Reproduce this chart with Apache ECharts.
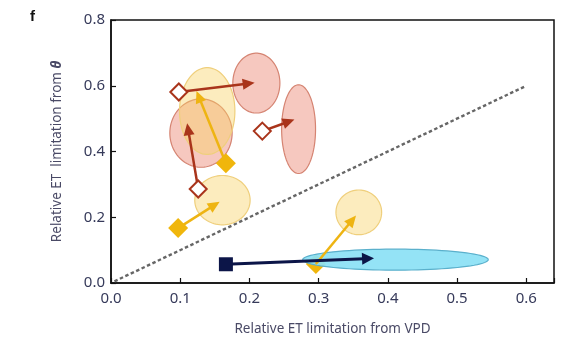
<!DOCTYPE html>
<html><head><meta charset="utf-8">
<script src="https://cdn.jsdelivr.net/npm/echarts@6/dist/echarts.min.js"></script>
<style>html,body{margin:0;padding:0;background:#fff}#c{width:563px;height:345px}</style>
</head><body><div id="c"></div>
<script>
// ---- data (x = relative ET limitation from VPD, y = from theta) ----
const xTicks = [0.0, 0.1, 0.2, 0.3, 0.4, 0.5, 0.6];
const yTicks = [0.0, 0.2, 0.4, 0.6, 0.8];
// ellipses: [cx, cy, rx, ry] in data units
const yellowEllipses = [[0.139, 0.523, 0.040, 0.132], [0.161, 0.252, 0.040, 0.075], [0.358, 0.215, 0.033, 0.068]];
const pinkEllipses = [[0.210, 0.608, 0.034, 0.091], [0.130, 0.456, 0.045, 0.104], [0.271, 0.468, 0.0245, 0.135]];
const cyanEllipses = [[0.411, 0.071, 0.134, 0.032]];
// arrows: [x0, y0, x1, y1]
const redArrows = [[0.098, 0.581, 0.2075, 0.609], [0.2186, 0.462, 0.265, 0.497], [0.126, 0.286, 0.110, 0.486]];
const yellowArrows = [[0.166, 0.364, 0.1235, 0.584], [0.097, 0.167, 0.157, 0.247], [0.296, 0.058, 0.354, 0.205]];
const navyArrows = [[0.166, 0.057, 0.380, 0.075]];
const oneToOne = [[0.005, 0.005], [0.6, 0.6]];

const chart = echarts.init(document.getElementById('c'), null, {renderer: 'canvas'});

function ellipseSeries(data, fill, stroke, z) {
  return {
    type: 'custom', data: data, z: z, silent: true,
    renderItem: function (params, api) {
      const c = api.coord([api.value(0), api.value(1)]);
      const s = api.size([api.value(2), api.value(3)]);
      const pts = [];
      for (let i = 0; i < 90; i++) {
        const a = i / 90 * Math.PI * 2;
        pts.push([c[0] + s[0] * Math.cos(a), c[1] + s[1] * Math.sin(a)]);
      }
      return {type: 'polygon', shape: {points: pts},
        style: {fill: fill, stroke: stroke, lineWidth: 1.2}};
    }
  };
}
function arrowSeries(data, color, width, headLen, headW, z) {
  return {
    type: 'custom', data: data, z: z, silent: true,
    renderItem: function (params, api) {
      const p0 = api.coord([api.value(0), api.value(1)]);
      const p1 = api.coord([api.value(2), api.value(3)]);
      const dx = p1[0] - p0[0], dy = p1[1] - p0[1];
      const L = Math.sqrt(dx * dx + dy * dy);
      const ux = dx / L, uy = dy / L;
      const bx = p1[0] - ux * headLen, by = p1[1] - uy * headLen;
      return {type: 'group', children: [
        {type: 'line', shape: {x1: p0[0], y1: p0[1], x2: bx + ux * 2, y2: by + uy * 2},
          style: {stroke: color, lineWidth: width}},
        {type: 'polygon', shape: {points: [[p1[0], p1[1]],
          [bx - uy * headW / 2, by + ux * headW / 2], [bx + uy * headW / 2, by - ux * headW / 2]]},
          style: {fill: color}}
      ]};
    }
  };
}

const labelColor = '#363a5a';
chart.setOption({
  animation: false,
  grid: {left: 111, right: 9, top: 20, bottom: 62, show: true, borderColor: '#111', borderWidth: 1.5, backgroundColor: '#fff'},
  title: {text: 'f', left: 25, top: 4, textStyle: {fontFamily: 'Liberation Sans', fontSize: 15, fontWeight: 'bold', color: '#111'}},
  xAxis: {
    type: 'value', min: 0, max: 0.64, interval: 0.1,
    name: 'Relative ET limitation from VPD', nameLocation: 'middle', nameGap: 39,
    nameTextStyle: {fontFamily: 'Noto Sans', fontSize: 13.5, color: '#4a4a66'},
    axisLine: {show: true, lineStyle: {color: '#111', width: 1.5}},
    axisTick: {show: true, inside: true, length: 5, lineStyle: {color: '#111', width: 1.2}},
    axisLabel: {fontFamily: 'Noto Sans', fontSize: 15, color: labelColor, margin: 8,
      formatter: function (v) { const t = xTicks.find(k => Math.abs(k - v) < 1e-6); return t === undefined ? '' : t.toFixed(1); }},
    splitLine: {show: false}
  },
  yAxis: {
    type: 'value', min: 0, max: 0.8, interval: 0.2,
    name: '{n|Relative ET  limitation from }{t|θ}', nameLocation: 'middle', nameGap: 47,
    nameTextStyle: {fontFamily: 'Noto Sans', fontSize: 13.5, color: '#4a4a66',
      rich: {n: {fontFamily: 'Noto Sans', fontSize: 13.5, color: '#4a4a66'}, t: {fontFamily: 'Noto Sans', fontSize: 13.5, fontStyle: 'italic', fontWeight: 'bold', color: '#4a4a66'}}},
    axisLine: {show: true, lineStyle: {color: '#111', width: 1.5}},
    axisTick: {show: true, inside: true, length: 5, lineStyle: {color: '#111', width: 1.2}},
    axisLabel: {fontFamily: 'Noto Sans', fontSize: 15, color: labelColor, margin: 6,
      formatter: function (v) { const t = yTicks.find(k => Math.abs(k - v) < 1e-6); return t === undefined ? '' : t.toFixed(1); }},
    splitLine: {show: false}
  },
  series: [
    {type: 'line', data: oneToOne, z: 1, symbol: 'none', silent: true,
      lineStyle: {color: '#666', width: 2.4, type: [3.5, 2.5]}},
    ellipseSeries(pinkEllipses, 'rgba(238,150,132,0.52)', '#d58472', 2),
    ellipseSeries(yellowEllipses, 'rgba(247,210,100,0.42)', '#efcf7c', 3),
    {type: 'scatter', data: [[yellowArrows[2][0], yellowArrows[2][1]]], z: 4, symbol: 'diamond', symbolSize: 20, silent: true,
      itemStyle: {color: '#f0b60c', opacity: 1}},
    ellipseSeries(cyanEllipses, 'rgba(140,225,245,0.93)', '#5ab0cc', 5),
    arrowSeries(yellowArrows, '#eeb412', 2.5, 12, 11, 6),
    arrowSeries(redArrows, '#a9341b', 2.5, 12, 11, 7),
    arrowSeries(navyArrows, '#0c1548', 3, 12, 12, 7),
    {type: 'scatter', data: redArrows.map(a => [a[0], a[1]]), z: 8, symbol: 'diamond', symbolSize: 17, silent: true,
      itemStyle: {color: '#fff', borderColor: '#a9341b', borderWidth: 2, opacity: 1}},
    {type: 'scatter', data: yellowArrows.slice(0, 2).map(a => [a[0], a[1]]), z: 8, symbol: 'diamond', symbolSize: 20, silent: true,
      itemStyle: {color: '#f0b60c', opacity: 1}},
    {type: 'scatter', data: navyArrows.map(a => [a[0], a[1]]), z: 8, symbol: 'rect', symbolSize: 14, silent: true,
      itemStyle: {color: '#0c1548', opacity: 1}}
  ]
});
</script></body></html>
